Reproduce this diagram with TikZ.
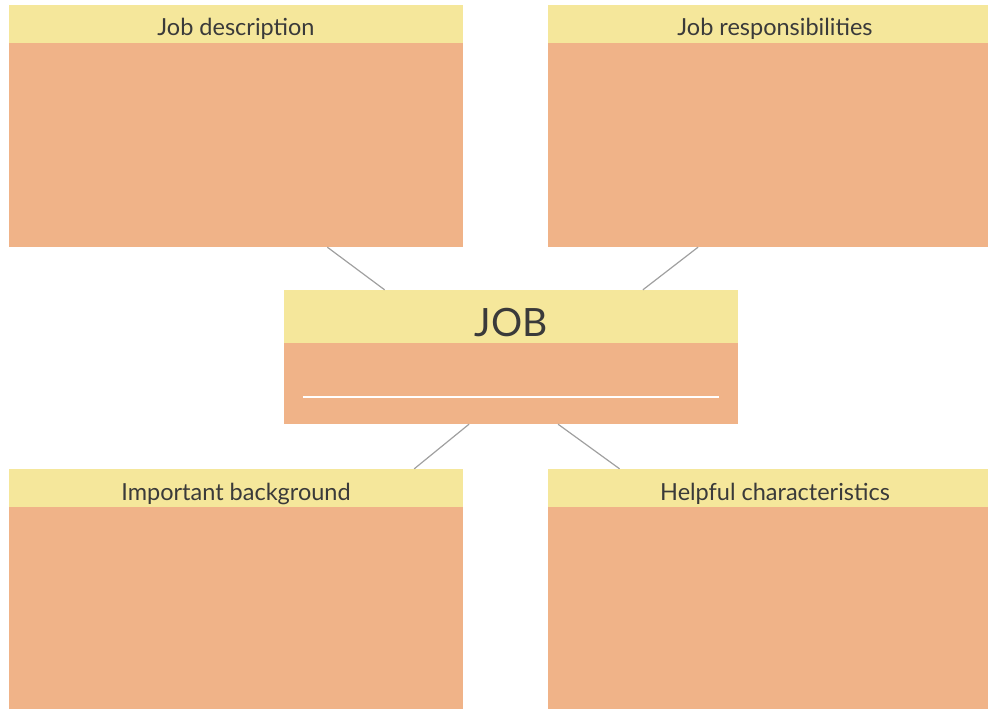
\documentclass[tikz,border=0pt]{standalone}
\usepackage{fontspec}
\setmainfont{Lato}
\usetikzlibrary{calc}
\definecolor{headyellow}{HTML}{F5E79B}
\definecolor{boxorange}{HTML}{F0B388}
\definecolor{inkgray}{HTML}{3A3A3A}
\definecolor{linkgray}{HTML}{A0A0A0}

\begin{document}
\begin{tikzpicture}[x=1pt,y=-1pt,
    box/.style={fill=boxorange, inner sep=0pt, minimum height=242pt},
    head/.style={fill=headyellow, inner sep=0pt, minimum height=38pt, text=inkgray,
      text height=24pt, text depth=0pt, font=\fontsize{23.5}{26}\selectfont},
    link/.style={draw=linkgray, line width=1.2pt}]
    \useasboundingbox (0,0) rectangle (988,709);
    % four outer boxes
    \node [box, minimum width=454pt] (desc) at (236,126) {};
    \node [head, minimum width=454pt, anchor=north] (deschead) at (desc.north) {Job description};
    \node [box, minimum width=440pt] (resp) at (768,126) {};
    \node [head, minimum width=440pt, anchor=north] (resphead) at (resp.north) {\hspace{14pt}Job responsibilities};
    \node [box, minimum width=454pt, minimum height=240pt] (back) at (236,589) {};
    \node [head, minimum width=454pt, anchor=north] (backhead) at (back.north) {Important background};
    \node [box, minimum width=440pt, minimum height=240pt] (char) at (768,589) {};
    \node [head, minimum width=440pt, anchor=north] (charhead) at (char.north) {\hspace{14pt}Helpful characteristics};
    % centre box
    \node [box, minimum width=454pt, minimum height=134pt] (job) at (511,357) {};
    \node [head, minimum width=454pt, minimum height=53pt, anchor=north, text height=39pt,
      font=\fontsize{39}{44}\selectfont] (jobhead) at (job.north) {JOB};
    \draw [white, line width=1.6pt] ($(job.south west)+(19,-27)$) -- ($(job.south east)+(-19,-27)$);
    % connectors
    \draw [link] (desc.-53.5) -- (job.152.2);
    \draw [link] (resp.-120.4) -- (job.27.3);
    \draw [link] (back.34.3) -- (job.-122.1);
    \draw [link] (char.141.5) -- (job.-55);
\end{tikzpicture}
\end{document}
